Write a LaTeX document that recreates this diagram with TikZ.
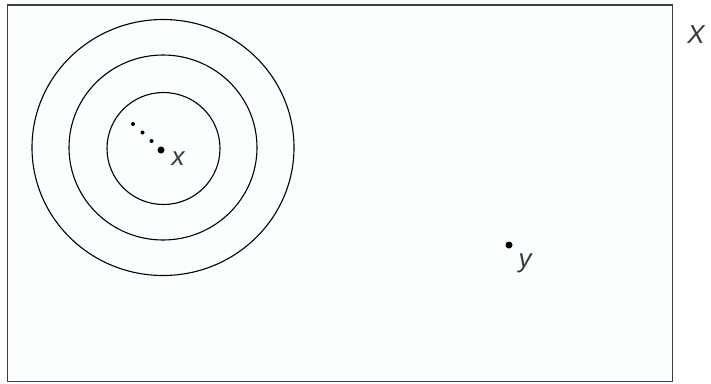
\documentclass[tikz,border=0pt]{standalone}
\usepackage{fontspec}
\setmainfont{Liberation Sans}
\begin{document}
\begin{tikzpicture}[x=1pt,y=-1pt,
  ring/.style={draw=black,line width=1.1pt},
  lbl/.style={font=\fontsize{26}{30}\selectfont\itshape,text=black!78,inner sep=0pt},
  bigdot/.style={circle,fill=black,inner sep=0pt,minimum size=7pt},
  smalldot/.style={circle,fill=black,inner sep=0pt,minimum size=4pt}]
\useasboundingbox (0,0) rectangle (711,383);
\fill[white] (0,0) rectangle (711,383);
\draw[draw=black!75,line width=1.6pt,fill={rgb,255:red,251;green,254;blue,254}] (7.5,5) rectangle (672.5,381.5);
\draw[ring] (163,147.5) ellipse [x radius=131, y radius=128];
\draw[ring] (163,147.5) ellipse [x radius=94, y radius=92.5];
\draw[ring] (163.5,148.5) ellipse [x radius=56.5, y radius=56];
\node[smalldot] (d1) at (133,124) {};
\node[smalldot] (d2) at (142.5,132.5) {};
\node[smalldot] (d3) at (151.5,141) {};
\node[bigdot] (px) at (161,150) {};
\node[lbl] (lx) at (178,159) {x};
\node[bigdot] (py) at (509,245) {};
\node[lbl] (ly) at (525,263) {y};
\node[lbl] (lX) at (696,35) {X};
\end{tikzpicture}
\end{document}
